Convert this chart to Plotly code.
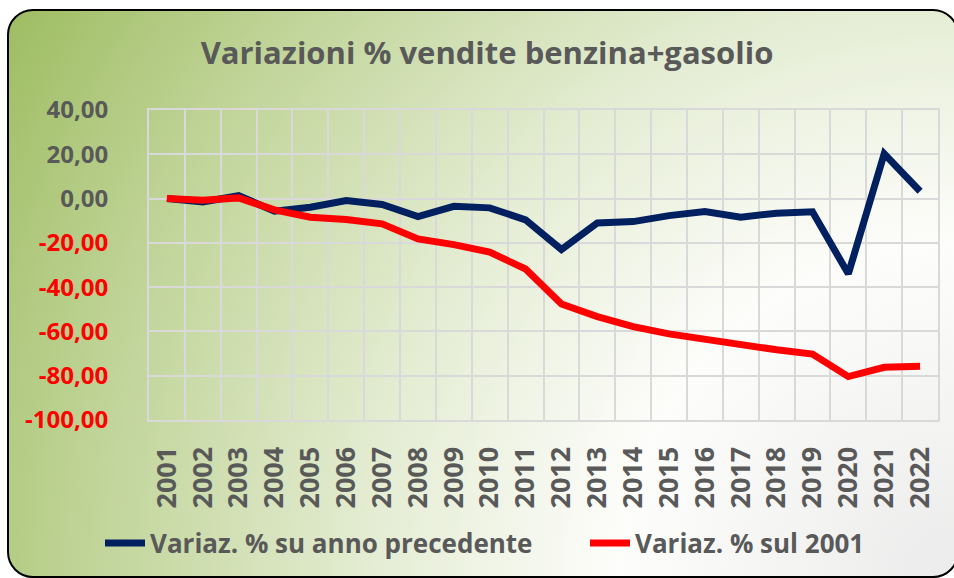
import base64
import plotly.graph_objects as go

years = [str(y) for y in range(2001, 2023)]
var_prev = [0.0, -1.5, 1.3, -5.7, -3.9, -0.9, -2.7, -8.1, -3.5, -4.2, -9.6,
            -23.0, -11.0, -10.4, -7.7, -5.9, -8.4, -6.6, -6.0, -34.0, 20.2, 3.3]
var_2001 = [0.0, -0.8, 0.3, -5.1, -8.4, -9.5, -11.4, -18.2, -20.8, -24.2, -31.8,
            -47.6, -53.3, -57.8, -61.1, -63.4, -66.4, -68.3, -70.2, -80.4, -76.2, -75.7]
y_ticks = [40, 20, 0, -20, -40, -60, -80, -100]
y_ticklabels = ["40,00", "20,00", "0,00", "-20,00", "-40,00", "-60,00", "-80,00", "-100,00"]
series_names = ["Variaz. % su anno precedente", "Variaz. % sul 2001"]
title_text = "Variazioni % vendite benzina+gasolio"

W, H = 954, 578
ML, MR, MT, MB = 149, 16, 110, 158
PW, PH = W - ML - MR, H - MT - MB

svg = f"""<svg xmlns='http://www.w3.org/2000/svg' width='{W}' height='{H}' viewBox='0 0 {W} {H}'>
<defs><radialGradient id='g' gradientUnits='userSpaceOnUse' cx='954' cy='578' r='1110'>
<stop offset='0' stop-color='#ebebeb'/>
<stop offset='0.3' stop-color='#fdfdfb'/>
<stop offset='0.52' stop-color='#e5edd4'/>
<stop offset='0.78' stop-color='#c0d498'/>
<stop offset='1' stop-color='#9dbc60'/>
</radialGradient></defs>
<rect x='8' y='10' width='950' height='567' rx='25' ry='25' fill='url(#g)' stroke='#000' stroke-width='2'/>
</svg>"""
src = "data:image/svg+xml;base64," + base64.b64encode(svg.encode()).decode()

xs = list(range(2001, 2023))

fig = go.Figure()
fig.add_trace(go.Scatter(x=xs, y=var_prev, mode="lines", name=series_names[0],
                         legend="legend",
                         line=dict(color="#002060", width=7)))
fig.add_trace(go.Scatter(x=xs, y=var_2001, mode="lines", name=series_names[1],
                         legend="legend2",
                         line=dict(color="#ff0000", width=7)))

ticktext = [f'<span style="color:#ff0000">{t}</span>' if v < 0 else t
            for v, t in zip(y_ticks, y_ticklabels)]

leg_font = dict(family="Open Sans", size=26, color="#595959", weight="bold")

fig.update_layout(
    width=W, height=H,
    margin=dict(l=ML, r=MR, t=MT, b=MB),
    paper_bgcolor="white",
    plot_bgcolor="rgba(0,0,0,0)",
    images=[dict(source=src, xref="paper", yref="paper",
                 x=-ML / PW, y=1 + MT / PH, sizex=W / PW, sizey=H / PH,
                 xanchor="left", yanchor="top", sizing="stretch", layer="below")],
    title=dict(text=title_text, x=(487 - ML) / PW, xref="paper", xanchor="center",
               y=1 - 53 / H, yanchor="middle",
               font=dict(family="Open Sans", size=31, color="#595959", weight="bold")),
    font=dict(family="Open Sans", color="#595959"),
    showlegend=True,
    legend=dict(orientation="h", x=(100 - ML) / PW, xanchor="left",
                y=(420 - 543) / PH, yanchor="middle",
                font=leg_font, bgcolor="rgba(0,0,0,0)", itemwidth=40),
    legend2=dict(orientation="h", x=(585 - ML) / PW, xanchor="left",
                 y=(420 - 543) / PH, yanchor="middle",
                 font=leg_font, bgcolor="rgba(0,0,0,0)", itemwidth=40),
    xaxis=dict(range=[2000.5, 2022.5], tickvals=xs, ticktext=years,
               tickangle=-90, showgrid=False, zeroline=False,
               showline=True, mirror=True, linecolor="#d9d9d9", linewidth=2,
               ticks="", ticklabelstandoff=14,
               tickfont=dict(family="Open Sans", size=27, color="#595959", weight="bold")),
    yaxis=dict(range=[-100, 40], tickvals=y_ticks, ticktext=ticktext,
               showgrid=True, gridcolor="#d9d9d9", gridwidth=2, zeroline=False,
               showline=True, mirror=True, linecolor="#d9d9d9", linewidth=2,
               ticks="", ticklabelstandoff=34,
               tickfont=dict(family="Open Sans", size=24, color="#595959", weight="bold")),
)
fig.update_xaxes(minor=dict(tick0=2000.5, dtick=1, showgrid=True,
                            gridcolor="#d9d9d9", gridwidth=2, ticks=""))

fig.write_html("out.html", config={"displayModeBar": False},
               post_script="document.body.style.margin='0';")
